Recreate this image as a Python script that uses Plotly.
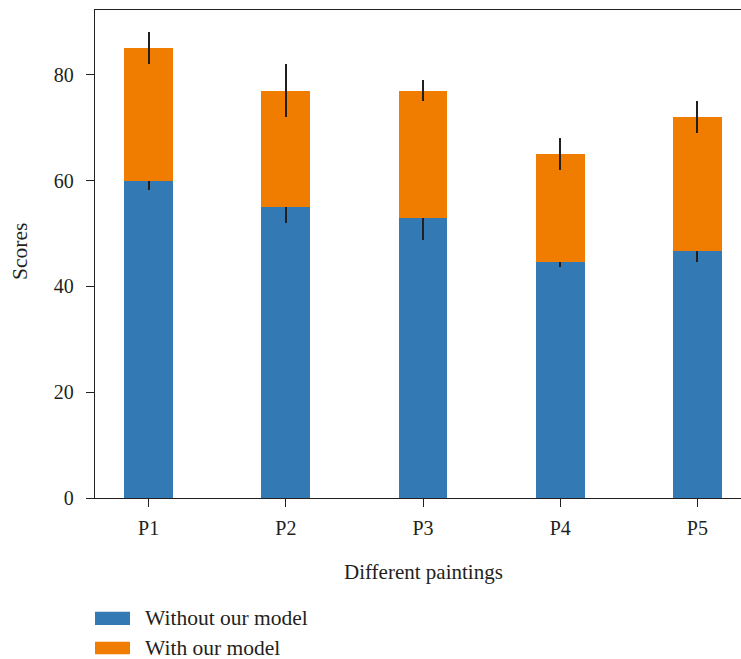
import plotly.graph_objects as go

categories = ["P1", "P2", "P3", "P4", "P5"]
without_model = [60, 55, 53, 44.7, 46.7]
with_model_gain = [25, 22, 24, 20.3, 25.3]
without_err = [1.7, 3, 4.3, 1, 2]
with_err = [3, 5, 2, 3, 3]
y_ticks = [0, 20, 40, 60, 80]

BLUE = "#3379B4"
ORANGE = "#F07C00"
INK = "#231F20"
FONT = "Liberation Serif"

W, H = 741, 659
L, R, T, B = 95, 0, 10, 161
pw, ph = W - L - R, H - T - B


def px(x):
    return (x - L) / pw


def py(y):
    return (H - B - y) / ph


fig = go.Figure()
fig.add_trace(go.Bar(
    x=categories, y=without_model, name="Without our model",
    marker=dict(color=BLUE, line=dict(width=0)),
    error_y=dict(type="data", array=without_err, color=INK, thickness=1.8, width=0),
))
fig.add_trace(go.Bar(
    x=categories, y=with_model_gain, name="With our model",
    marker=dict(color=ORANGE, line=dict(width=0)),
    error_y=dict(type="data", array=with_err, color=INK, thickness=1.8, width=0),
))

shapes = []
annotations = []
legend_items = [("Without our model", BLUE, 611.7, 625), ("With our model", ORANGE, 641.7, 654.3)]
for label, col, y0, y1 in legend_items:
    shapes.append(dict(type="rect", xref="paper", yref="paper",
                       x0=px(95), x1=px(130), y0=py(y1), y1=py(y0),
                       fillcolor=col, line=dict(width=0)))
    annotations.append(dict(text=label, xref="paper", yref="paper",
                            x=px(143), y=py((y0 + y1) / 2), xanchor="left", yanchor="middle",
                            showarrow=False, font=dict(family=FONT, size=21.5, color=INK)))

annotations.append(dict(text="Different paintings", xref="paper", yref="paper",
                        x=px(423), y=py(572), xanchor="center", yanchor="middle",
                        showarrow=False, font=dict(family=FONT, size=21, color=INK)))
annotations.append(dict(text="Scores", xref="paper", yref="paper", textangle=-90,
                        x=px(20), y=py(252), xanchor="center", yanchor="middle",
                        showarrow=False, font=dict(family=FONT, size=21.5, color=INK)))

fig.update_layout(
    width=W, height=H,
    margin=dict(l=L, r=R, t=T, b=B, pad=0),
    barmode="stack", bargap=0.643,
    plot_bgcolor="rgba(0,0,0,0)", paper_bgcolor="white",
    showlegend=False,
    font=dict(family=FONT, size=20, color=INK),
    shapes=shapes, annotations=annotations,
)
fig.update_xaxes(
    range=[-0.391, 4.318], showgrid=False, zeroline=False,
    showline=True, linecolor=INK, linewidth=1.4, mirror=True,
    ticks="outside", ticklen=8, tickwidth=1.2, tickcolor=INK,
    ticklabelstandoff=4,
)
fig.update_yaxes(
    range=[0, 92.25], showgrid=False, zeroline=False,
    showline=True, linecolor=INK, linewidth=1.4,
    ticks="outside", ticklen=8, tickwidth=1.2, tickcolor=INK,
    tickvals=y_ticks, ticklabelstandoff=8,
)

fig.write_html(
    "out.html",
    config={"displayModeBar": False},
    post_script="document.body.style.margin='0px';document.body.style.overflow='hidden';",
)
